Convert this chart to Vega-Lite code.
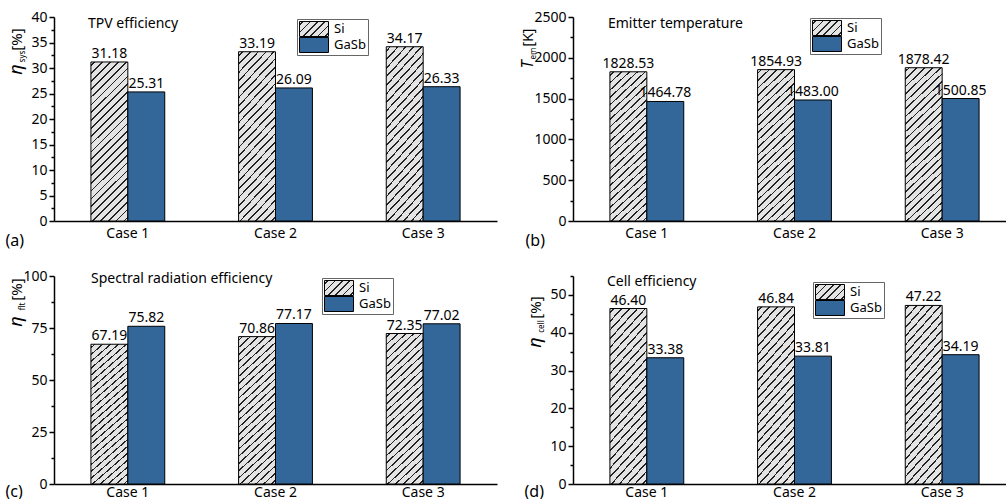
{
"$schema": "https://vega.github.io/schema/vega-lite/v6.json",
"background": "white",
"padding": {"left": 5, "top": 10, "right": 0, "bottom": 0},
"params": [
{"name": "hatch", "value": {"gradient": "linear", "x1": 0, "y1": 0, "x2": 0.27, "y2": 1.1685, "stops": [
{"offset":0,"color":"#e4e4e4"},
{"offset":0.0156,"color":"#e4e4e4"},{"offset":0.0156,"color":"#222"},{"offset":0.0244,"color":"#222"},{"offset":0.0244,"color":"#e4e4e4"},
{"offset":0.0556,"color":"#e4e4e4"},{"offset":0.0556,"color":"#222"},{"offset":0.0644,"color":"#222"},{"offset":0.0644,"color":"#e4e4e4"},
{"offset":0.0956,"color":"#e4e4e4"},{"offset":0.0956,"color":"#222"},{"offset":0.1044,"color":"#222"},{"offset":0.1044,"color":"#e4e4e4"},
{"offset":0.1356,"color":"#e4e4e4"},{"offset":0.1356,"color":"#222"},{"offset":0.1444,"color":"#222"},{"offset":0.1444,"color":"#e4e4e4"},
{"offset":0.1756,"color":"#e4e4e4"},{"offset":0.1756,"color":"#222"},{"offset":0.1844,"color":"#222"},{"offset":0.1844,"color":"#e4e4e4"},
{"offset":0.2156,"color":"#e4e4e4"},{"offset":0.2156,"color":"#222"},{"offset":0.2244,"color":"#222"},{"offset":0.2244,"color":"#e4e4e4"},
{"offset":0.2556,"color":"#e4e4e4"},{"offset":0.2556,"color":"#222"},{"offset":0.2644,"color":"#222"},{"offset":0.2644,"color":"#e4e4e4"},
{"offset":0.2956,"color":"#e4e4e4"},{"offset":0.2956,"color":"#222"},{"offset":0.3044,"color":"#222"},{"offset":0.3044,"color":"#e4e4e4"},
{"offset":0.3356,"color":"#e4e4e4"},{"offset":0.3356,"color":"#222"},{"offset":0.3444,"color":"#222"},{"offset":0.3444,"color":"#e4e4e4"},
{"offset":0.3756,"color":"#e4e4e4"},{"offset":0.3756,"color":"#222"},{"offset":0.3844,"color":"#222"},{"offset":0.3844,"color":"#e4e4e4"},
{"offset":0.4156,"color":"#e4e4e4"},{"offset":0.4156,"color":"#222"},{"offset":0.4244,"color":"#222"},{"offset":0.4244,"color":"#e4e4e4"},
{"offset":0.4556,"color":"#e4e4e4"},{"offset":0.4556,"color":"#222"},{"offset":0.4644,"color":"#222"},{"offset":0.4644,"color":"#e4e4e4"},
{"offset":0.4956,"color":"#e4e4e4"},{"offset":0.4956,"color":"#222"},{"offset":0.5044,"color":"#222"},{"offset":0.5044,"color":"#e4e4e4"},
{"offset":0.5356,"color":"#e4e4e4"},{"offset":0.5356,"color":"#222"},{"offset":0.5444,"color":"#222"},{"offset":0.5444,"color":"#e4e4e4"},
{"offset":0.5756,"color":"#e4e4e4"},{"offset":0.5756,"color":"#222"},{"offset":0.5844,"color":"#222"},{"offset":0.5844,"color":"#e4e4e4"},
{"offset":0.6156,"color":"#e4e4e4"},{"offset":0.6156,"color":"#222"},{"offset":0.6244,"color":"#222"},{"offset":0.6244,"color":"#e4e4e4"},
{"offset":0.6556,"color":"#e4e4e4"},{"offset":0.6556,"color":"#222"},{"offset":0.6644,"color":"#222"},{"offset":0.6644,"color":"#e4e4e4"},
{"offset":0.6956,"color":"#e4e4e4"},{"offset":0.6956,"color":"#222"},{"offset":0.7044,"color":"#222"},{"offset":0.7044,"color":"#e4e4e4"},
{"offset":0.7356,"color":"#e4e4e4"},{"offset":0.7356,"color":"#222"},{"offset":0.7444,"color":"#222"},{"offset":0.7444,"color":"#e4e4e4"},
{"offset":0.7756,"color":"#e4e4e4"},{"offset":0.7756,"color":"#222"},{"offset":0.7844,"color":"#222"},{"offset":0.7844,"color":"#e4e4e4"},
{"offset":0.8156,"color":"#e4e4e4"},{"offset":0.8156,"color":"#222"},{"offset":0.8244,"color":"#222"},{"offset":0.8244,"color":"#e4e4e4"},
{"offset":0.8556,"color":"#e4e4e4"},{"offset":0.8556,"color":"#222"},{"offset":0.8644,"color":"#222"},{"offset":0.8644,"color":"#e4e4e4"},
{"offset":0.8956,"color":"#e4e4e4"},{"offset":0.8956,"color":"#222"},{"offset":0.9044,"color":"#222"},{"offset":0.9044,"color":"#e4e4e4"},
{"offset":0.9356,"color":"#e4e4e4"},{"offset":0.9356,"color":"#222"},{"offset":0.9444,"color":"#222"},{"offset":0.9444,"color":"#e4e4e4"},
{"offset":0.9756,"color":"#e4e4e4"},{"offset":0.9756,"color":"#222"},{"offset":0.9844,"color":"#222"},{"offset":0.9844,"color":"#e4e4e4"},
{"offset":1,"color":"#e4e4e4"}]}},
{"name": "hatchL", "value": {"gradient": "linear", "x1": 0, "y1": 0, "x2": 1.198, "y2": 0.621, "stops": [
{"offset":0,"color":"#e4e4e4"},
{"offset":0.065,"color":"#e4e4e4"},{"offset":0.065,"color":"#222"},{"offset":0.101,"color":"#222"},{"offset":0.101,"color":"#e4e4e4"},
{"offset":0.232,"color":"#e4e4e4"},{"offset":0.232,"color":"#222"},{"offset":0.268,"color":"#222"},{"offset":0.268,"color":"#e4e4e4"},
{"offset":0.399,"color":"#e4e4e4"},{"offset":0.399,"color":"#222"},{"offset":0.435,"color":"#222"},{"offset":0.435,"color":"#e4e4e4"},
{"offset":0.565,"color":"#e4e4e4"},{"offset":0.565,"color":"#222"},{"offset":0.601,"color":"#222"},{"offset":0.601,"color":"#e4e4e4"},
{"offset":0.732,"color":"#e4e4e4"},{"offset":0.732,"color":"#222"},{"offset":0.768,"color":"#222"},{"offset":0.768,"color":"#e4e4e4"},
{"offset":0.899,"color":"#e4e4e4"},{"offset":0.899,"color":"#222"},{"offset":0.935,"color":"#222"},{"offset":0.935,"color":"#e4e4e4"},
{"offset":1,"color":"#e4e4e4"}]}}
],
"datasets": {
"a": [
{"case": "Case 1", "material": "Si", "value": 31.18},
{"case": "Case 1", "material": "GaSb", "value": 25.31},
{"case": "Case 2", "material": "Si", "value": 33.19},
{"case": "Case 2", "material": "GaSb", "value": 26.09},
{"case": "Case 3", "material": "Si", "value": 34.17},
{"case": "Case 3", "material": "GaSb", "value": 26.33}],
"b": [
{"case": "Case 1", "material": "Si", "value": 1828.53},
{"case": "Case 1", "material": "GaSb", "value": 1464.78},
{"case": "Case 2", "material": "Si", "value": 1854.93},
{"case": "Case 2", "material": "GaSb", "value": 1483.00},
{"case": "Case 3", "material": "Si", "value": 1878.42},
{"case": "Case 3", "material": "GaSb", "value": 1500.85}],
"c": [
{"case": "Case 1", "material": "Si", "value": 67.19},
{"case": "Case 1", "material": "GaSb", "value": 75.82},
{"case": "Case 2", "material": "Si", "value": 70.86},
{"case": "Case 2", "material": "GaSb", "value": 77.17},
{"case": "Case 3", "material": "Si", "value": 72.35},
{"case": "Case 3", "material": "GaSb", "value": 77.02}],
"d": [
{"case": "Case 1", "material": "Si", "value": 46.40},
{"case": "Case 1", "material": "GaSb", "value": 33.38},
{"case": "Case 2", "material": "Si", "value": 46.84},
{"case": "Case 2", "material": "GaSb", "value": 33.81},
{"case": "Case 3", "material": "Si", "value": 47.22},
{"case": "Case 3", "material": "GaSb", "value": 34.19}]
},
"config": {
"font": "Noto Sans",
"view": {"stroke": null},
"axis": {"domainColor": "black", "domainWidth": 1.5, "tickColor": "black", "tickWidth": 1.5, "labelFontSize": 14, "labelColor": "black", "titleColor": "black", "titleFontWeight": "normal", "titleFontSize": 14, "grid": false},
"title": {"fontSize": 14, "fontWeight": "normal", "anchor": "start", "color": "black", "frame": "group", "baseline": "top"},
"legend": {"orient": "none", "title": null, "symbolType": "M-1,-0.517H1V0.517H-1Z", "symbolSize": 841, "symbolStrokeColor": "black", "symbolStrokeWidth": 1, "clipHeight": 16, "rowPadding": 0, "labelFontSize": 13, "labelColor": "black", "labelOffset": 5, "padding": 2, "strokeColor": "#666", "fillColor": "white"},
"text": {"fontSize": 14, "color": "black", "baseline": "alphabetic", "dy": -4}
},
"vconcat": [
{"hconcat": [
{
"width": 443, "height": 204,
"data": {"name": "a"},
"title": {"text": "TPV efficiency", "dx": 34, "offset": -21},
"encoding": {
"x": {"field": "case", "type": "nominal", "title": "(a)", "scale": {"paddingInner": 0, "paddingOuter": 0}, "axis": {"labelAngle": 0, "ticks": false, "labelPadding": 5, "titleX": -49, "titleY": 24, "titleAlign": "left", "titleBaseline": "alphabetic", "titleFontSize": 16}},
"xOffset": {"field": "material", "type": "nominal", "sort": ["Si", "GaSb"], "scale": {"paddingInner": 0, "paddingOuter": 1}}
},
"layer": [
{"mark": {"type": "bar", "stroke": "black", "strokeWidth": 1},
"encoding": {
"y": {"field": "value", "type": "quantitative", "scale": {"domain": [0, 40]}, "axis": {"orient": "left", "format": "d", "values": [0,5,10,15,20,25,30,35,40], "tickSize": 5, "labelPadding": 2, "title": "[%]", "titleFontSize": 15, "titleAngle": -90, "titleX": -33, "titleY": 22, "titleAlign": "center", "titleBaseline": "alphabetic"}},
"fill": {"field": "material", "type": "nominal", "scale": {"domain": ["Si", "GaSb"], "range": [{"expr": "hatchL"}, "#336699"]},
"condition": {"test": "datum.material === 'Si'", "value": {"expr": "hatch"}},
"legend": {"legendX": 243, "legendY": 2}}
}},
{"transform": [{"filter": "datum.material === 'Si'"}], "mark": {"type": "text"},
"encoding": {"text": {"field": "value", "type": "quantitative", "format": ".2f"},
"y": {"field": "value", "type": "quantitative", "scale": {"domain": [0, 40]}, "axis": {"orient": "left", "values": [2.5,7.5,12.5,17.5,22.5,27.5,32.5,37.5], "labels": false, "domain": false, "tickSize": 3, "title": "sys", "titleFontSize": 8, "titleAngle": -90, "titleX": -30, "titleY": 39, "titleAlign": "center", "titleBaseline": "alphabetic"}}}},
{"transform": [{"filter": "datum.material === 'GaSb'"}], "mark": {"type": "text"},
"encoding": {"text": {"field": "value", "type": "quantitative", "format": ".2f"},
"y": {"field": "value", "type": "quantitative", "scale": {"domain": [0, 40]}, "axis": {"orient": "left", "labels": false, "domain": false, "ticks": false, "title": "η", "titleFontSize": 18, "titleFontStyle": "italic", "titleAngle": -90, "titleX": -33, "titleY": 52, "titleAlign": "center", "titleBaseline": "alphabetic"}}}}
],
"resolve": {"axis": {"y": "independent"}}
},
{
"width": 443, "height": 204,
"data": {"name": "b"},
"title": {"text": "Emitter temperature", "dx": 35, "offset": -21},
"encoding": {
"x": {"field": "case", "type": "nominal", "title": "(b)", "scale": {"paddingInner": 0, "paddingOuter": 0}, "axis": {"labelAngle": 0, "ticks": false, "labelPadding": 5, "titleX": -48, "titleY": 24, "titleAlign": "left", "titleBaseline": "alphabetic", "titleFontSize": 16}},
"xOffset": {"field": "material", "type": "nominal", "sort": ["Si", "GaSb"], "scale": {"paddingInner": 0, "paddingOuter": 1}}
},
"layer": [
{"mark": {"type": "bar", "stroke": "black", "strokeWidth": 1},
"encoding": {
"y": {"field": "value", "type": "quantitative", "scale": {"domain": [0, 2500]}, "axis": {"orient": "left", "format": "d", "values": [0,500,1000,1500,2000,2500], "tickSize": 5, "labelPadding": 2, "title": "[K]", "titleFontSize": 14, "titleAngle": -90, "titleX": -41, "titleY": 20, "titleAlign": "center", "titleBaseline": "alphabetic"}},
"fill": {"field": "material", "type": "nominal", "scale": {"domain": ["Si", "GaSb"], "range": [{"expr": "hatchL"}, "#336699"]},
"condition": {"test": "datum.material === 'Si'", "value": {"expr": "hatch"}},
"legend": {"legendX": 237, "legendY": 1}}
}},
{"transform": [{"filter": "datum.material === 'Si'"}], "mark": {"type": "text"},
"encoding": {"text": {"field": "value", "type": "quantitative", "format": ".2f"},
"y": {"field": "value", "type": "quantitative", "scale": {"domain": [0, 2500]}, "axis": {"orient": "left", "values": [250,750,1250,1750,2250], "labels": false, "domain": false, "tickSize": 3, "title": "em", "titleFontSize": 8, "titleAngle": -90, "titleX": -38, "titleY": 36, "titleAlign": "center", "titleBaseline": "alphabetic"}}}},
{"transform": [{"filter": "datum.material === 'GaSb'"}], "mark": {"type": "text"},
"encoding": {"text": {"field": "value", "type": "quantitative", "format": ".2f"},
"y": {"field": "value", "type": "quantitative", "scale": {"domain": [0, 2500]}, "axis": {"orient": "left", "labels": false, "domain": false, "ticks": false, "title": "T", "titleFontSize": 16, "titleFontStyle": "italic", "titleAngle": -90, "titleX": -41, "titleY": 47, "titleAlign": "center", "titleBaseline": "alphabetic"}}}}
],
"resolve": {"axis": {"y": "independent"}}
}
], "spacing": 22, "resolve": {"scale": {"fill": "independent"}, "legend": {"fill": "independent"}}},
{"hconcat": [
{
"width": 443, "height": 208,
"data": {"name": "c"},
"title": {"text": "Spectral radiation efficiency", "dx": 37, "offset": -17},
"encoding": {
"x": {"field": "case", "type": "nominal", "title": "(c)", "scale": {"paddingInner": 0, "paddingOuter": 0}, "axis": {"labelAngle": 0, "ticks": false, "labelPadding": 1, "titleX": -49, "titleY": 12, "titleAlign": "left", "titleBaseline": "alphabetic", "titleFontSize": 16}},
"xOffset": {"field": "material", "type": "nominal", "sort": ["Si", "GaSb"], "scale": {"paddingInner": 0, "paddingOuter": 1}}
},
"layer": [
{"mark": {"type": "bar", "stroke": "black", "strokeWidth": 1},
"encoding": {
"y": {"field": "value", "type": "quantitative", "scale": {"domain": [0, 100]}, "axis": {"orient": "left", "format": "d", "values": [0,25,50,75,100], "tickSize": 5, "labelPadding": 2, "title": "[%]", "titleFontSize": 15, "titleAngle": -90, "titleX": -33, "titleY": 13, "titleAlign": "center", "titleBaseline": "alphabetic"}},
"fill": {"field": "material", "type": "nominal", "scale": {"domain": ["Si", "GaSb"], "range": [{"expr": "hatchL"}, "#336699"]},
"condition": {"test": "datum.material === 'Si'", "value": {"expr": "hatch"}},
"legend": {"legendX": 268, "legendY": 2}}
}},
{"transform": [{"filter": "datum.material === 'Si'"}], "mark": {"type": "text"},
"encoding": {"text": {"field": "value", "type": "quantitative", "format": ".2f"},
"y": {"field": "value", "type": "quantitative", "scale": {"domain": [0, 100]}, "axis": {"orient": "left", "values": [12.5,37.5,62.5,87.5], "labels": false, "domain": false, "tickSize": 3, "title": "flt", "titleFontSize": 8, "titleAngle": -90, "titleX": -30, "titleY": 30, "titleAlign": "center", "titleBaseline": "alphabetic"}}}},
{"transform": [{"filter": "datum.material === 'GaSb'"}], "mark": {"type": "text"},
"encoding": {"text": {"field": "value", "type": "quantitative", "format": ".2f"},
"y": {"field": "value", "type": "quantitative", "scale": {"domain": [0, 100]}, "axis": {"orient": "left", "labels": false, "domain": false, "ticks": false, "title": "η", "titleFontSize": 18, "titleFontStyle": "italic", "titleAngle": -90, "titleX": -33, "titleY": 45, "titleAlign": "center", "titleBaseline": "alphabetic"}}}}
],
"resolve": {"axis": {"y": "independent"}}
},
{
"width": 443, "height": 208,
"data": {"name": "d"},
"title": {"text": "Cell efficiency", "dx": 34, "offset": -14},
"encoding": {
"x": {"field": "case", "type": "nominal", "title": "(d)", "scale": {"paddingInner": 0, "paddingOuter": 0}, "axis": {"labelAngle": 0, "ticks": false, "labelPadding": 1, "titleX": -49, "titleY": 12, "titleAlign": "left", "titleBaseline": "alphabetic", "titleFontSize": 16}},
"xOffset": {"field": "material", "type": "nominal", "sort": ["Si", "GaSb"], "scale": {"paddingInner": 0, "paddingOuter": 1}}
},
"layer": [
{"mark": {"type": "bar", "stroke": "black", "strokeWidth": 1},
"encoding": {
"y": {"field": "value", "type": "quantitative", "scale": {"domain": [0, 55]}, "axis": {"orient": "left", "format": "d", "values": [0,10,20,30,40,50], "tickSize": 5, "labelPadding": 2, "title": "[%]", "titleFontSize": 15, "titleAngle": -90, "titleX": -33, "titleY": 31, "titleAlign": "center", "titleBaseline": "alphabetic"}},
"fill": {"field": "material", "type": "nominal", "scale": {"domain": ["Si", "GaSb"], "range": [{"expr": "hatchL"}, "#336699"]},
"condition": {"test": "datum.material === 'Si'", "value": {"expr": "hatch"}},
"legend": {"legendX": 240, "legendY": 6}}
}},
{"transform": [{"filter": "datum.material === 'Si'"}], "mark": {"type": "text"},
"encoding": {"text": {"field": "value", "type": "quantitative", "format": ".2f"},
"y": {"field": "value", "type": "quantitative", "scale": {"domain": [0, 55]}, "axis": {"orient": "left", "values": [5,15,25,35,45,55], "labels": false, "domain": false, "tickSize": 3, "title": "cell", "titleFontSize": 8, "titleAngle": -90, "titleX": -30, "titleY": 50, "titleAlign": "center", "titleBaseline": "alphabetic"}}}},
{"transform": [{"filter": "datum.material === 'GaSb'"}], "mark": {"type": "text"},
"encoding": {"text": {"field": "value", "type": "quantitative", "format": ".2f"},
"y": {"field": "value", "type": "quantitative", "scale": {"domain": [0, 55]}, "axis": {"orient": "left", "labels": false, "domain": false, "ticks": false, "title": "η", "titleFontSize": 18, "titleFontStyle": "italic", "titleAngle": -90, "titleX": -33, "titleY": 66, "titleAlign": "center", "titleBaseline": "alphabetic"}}}}
],
"resolve": {"axis": {"y": "independent"}}
}
], "spacing": 27, "resolve": {"scale": {"fill": "independent"}, "legend": {"fill": "independent"}}}
],
"spacing": 21
}
